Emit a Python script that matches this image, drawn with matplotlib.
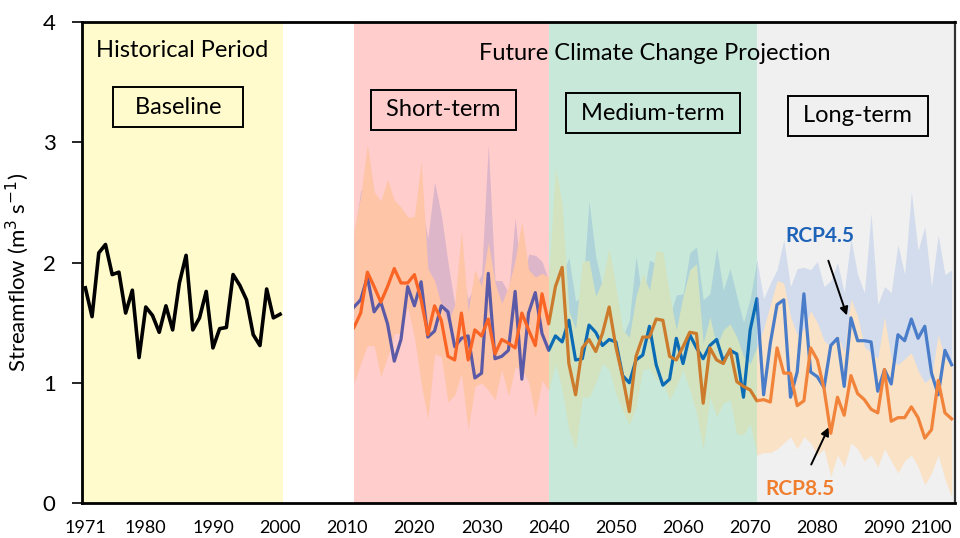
import numpy as np
import matplotlib.pyplot as plt

plt.rcParams['font.family'] = ['Lato', 'DejaVu Sans']

# observed baseline streamflow, 1971-2000
hist_years = list(range(1971, 2001))
hist_flow = [1.79, 1.55, 2.08, 2.15, 1.90, 1.92, 1.58, 1.77, 1.21, 1.63,
             1.56, 1.42, 1.64, 1.44, 1.83, 2.06, 1.44, 1.54, 1.76, 1.29,
             1.45, 1.46, 1.90, 1.81, 1.69, 1.40, 1.31, 1.78, 1.54, 1.57]

# projected streamflow, 2011-2100 (ensemble mean and range)
proj_years = list(range(2011, 2101))
rcp45 = [1.63, 1.69, 1.88, 1.59, 1.67, 1.49, 1.18, 1.36, 1.80, 1.64,
         1.84, 1.38, 1.43, 1.64, 1.59, 1.30, 1.37, 1.39, 1.04, 1.08,
         1.91, 1.20, 1.22, 1.27, 1.76, 1.03, 1.58, 1.75, 1.41, 1.27,
         1.39, 1.34, 1.52, 1.19, 1.20, 1.48, 1.42, 1.31, 1.36, 1.34,
         1.06, 1.00, 1.19, 1.23, 1.47, 1.15, 0.98, 1.03, 1.37, 1.16,
         1.40, 1.29, 1.20, 1.31, 1.36, 1.18, 1.27, 1.24, 0.88, 1.44,
         1.70, 0.90, 1.33, 1.65, 1.69, 0.88, 1.09, 1.74, 1.09, 1.05,
         0.96, 1.31, 1.37, 0.97, 1.54, 1.35, 1.35, 1.34, 0.93, 1.11,
         0.99, 1.40, 1.35, 1.53, 1.37, 1.47, 1.08, 0.90, 1.27, 1.15]
rcp85 = [1.46, 1.58, 1.92, 1.80, 1.67, 1.80, 1.95, 1.83, 1.83, 1.90,
         1.69, 1.40, 1.64, 1.52, 1.22, 1.19, 1.58, 1.19, 1.44, 1.39,
         1.53, 1.24, 1.36, 1.33, 1.29, 1.58, 1.44, 1.31, 1.74, 1.49,
         1.80, 1.96, 1.16, 0.90, 1.29, 1.36, 1.26, 1.41, 1.63, 1.30,
         1.05, 0.76, 1.22, 1.38, 1.38, 1.53, 1.52, 1.22, 1.19, 1.30,
         1.42, 1.41, 0.83, 1.29, 1.19, 1.16, 1.28, 1.01, 0.97, 0.94,
         0.85, 0.86, 0.84, 1.29, 1.08, 1.08, 0.81, 0.85, 1.29, 1.19,
         0.95, 0.58, 0.88, 0.73, 1.06, 0.91, 0.86, 0.78, 0.75, 1.11,
         0.68, 0.71, 0.71, 0.80, 0.71, 0.54, 0.61, 1.02, 0.75, 0.70]
rcp45_hi = [2.20, 2.60, 2.60, 2.40, 2.30, 2.40, 2.30, 2.20, 2.30, 2.30,
            2.50, 2.20, 2.67, 2.40, 2.00, 1.65, 1.90, 1.70, 1.80, 1.90,
            2.98, 1.85, 1.85, 1.75, 2.37, 1.80, 2.07, 2.06, 2.01, 1.85,
            2.10, 1.90, 2.04, 1.68, 1.72, 2.51, 2.05, 1.80, 1.72, 1.55,
            1.38, 1.52, 2.05, 1.68, 2.02, 1.99, 1.77, 1.55, 1.73, 1.74,
            2.08, 2.13, 1.69, 1.74, 2.12, 1.77, 1.95, 1.72, 1.50, 1.70,
            2.02, 1.70, 1.83, 1.94, 2.19, 1.80, 1.95, 1.96, 1.94, 2.01,
            1.80, 1.85, 2.00, 1.75, 2.20, 1.90, 1.75, 2.41, 1.65, 1.80,
            1.75, 2.15, 1.90, 2.59, 2.10, 2.30, 1.80, 2.23, 1.90, 1.94]
rcp45_lo = [1.20, 1.25, 1.40, 1.35, 1.20, 1.25, 1.45, 1.45, 1.65, 1.40,
            1.10, 0.90, 1.25, 1.25, 0.95, 0.95, 1.10, 0.80, 1.00, 1.05,
            1.00, 0.95, 1.15, 0.95, 1.15, 1.15, 1.05, 0.85, 1.05, 1.00,
            1.20, 1.00, 0.80, 0.70, 0.95, 0.95, 1.05, 1.20, 1.15, 1.00,
            0.85, 0.80, 0.90, 1.15, 1.15, 1.05, 1.05, 0.95, 1.00, 1.15,
            1.00, 0.85, 0.70, 0.95, 0.85, 0.90, 0.95, 0.75, 0.70, 0.80,
            1.00, 0.95, 1.00, 1.10, 1.10, 0.95, 1.00, 1.05, 1.00, 0.95,
            0.95, 0.90, 1.00, 0.90, 1.05, 1.00, 0.95, 0.95, 0.90, 1.00,
            0.90, 0.95, 0.95, 1.00, 0.90, 0.85, 0.85, 0.95, 0.90, 0.90]
rcp85_hi = [2.27, 2.55, 2.98, 2.59, 2.51, 2.69, 2.52, 2.46, 2.38, 2.38,
            2.84, 1.95, 1.85, 1.65, 1.50, 1.65, 2.27, 1.59, 1.94, 1.80,
            2.17, 1.83, 1.66, 1.80, 2.02, 2.34, 1.94, 1.88, 1.91, 1.88,
            2.80, 2.49, 1.60, 1.45, 2.01, 2.02, 1.72, 1.85, 2.12, 1.80,
            1.44, 1.38, 1.72, 1.91, 1.77, 2.10, 2.09, 1.73, 1.44, 1.72,
            1.94, 1.99, 1.33, 1.55, 1.30, 1.44, 1.49, 1.38, 1.22, 1.16,
            1.30, 1.45, 1.65, 1.85, 1.83, 1.55, 1.40, 1.45, 1.60, 1.50,
            1.35, 1.30, 1.40, 1.25, 1.70, 1.55, 1.30, 1.25, 1.20, 1.55,
            1.20, 1.15, 1.20, 1.25, 1.10, 1.00, 1.05, 1.40, 1.20, 1.15]
rcp85_lo = [1.00, 1.16, 1.31, 1.31, 1.05, 1.22, 1.41, 1.41, 1.63, 1.38,
            1.00, 0.70, 1.24, 1.22, 0.84, 0.90, 1.08, 0.61, 0.97, 1.00,
            0.94, 0.86, 1.11, 0.89, 1.13, 1.11, 1.01, 0.72, 1.02, 0.94,
            1.16, 0.94, 0.61, 0.44, 0.88, 0.88, 1.00, 1.16, 1.11, 0.91,
            0.77, 0.65, 0.80, 1.11, 1.12, 1.03, 1.00, 0.86, 0.97, 1.11,
            0.94, 0.75, 0.45, 0.88, 0.72, 0.83, 0.86, 0.57, 0.57, 0.66,
            0.40, 0.42, 0.42, 0.45, 0.50, 0.55, 0.45, 0.55, 0.50, 0.40,
            0.45, 0.22, 0.40, 0.30, 0.50, 0.45, 0.35, 0.40, 0.30, 0.45,
            0.35, 0.25, 0.35, 0.40, 0.30, 0.15, 0.25, 0.40, 0.20, 0.05]

period_names = ['Short-term', 'Medium-term', 'Long-term']
period_spans = [(2011, 2040), (2040, 2071), (2071, 2100.5)]
xtick_years = [1971, 1980, 1990, 2000, 2010, 2020, 2030, 2040,
               2050, 2060, 2070, 2080, 2090, 2100]

# each period is shaded, so the curves take on a tinted colour inside it
period_bg = ['#FFCDCC', '#C8E8DA', '#F0F0F0']
line45_col = ['#5B5AA6', '#0B6CB5', '#4A7DC9']
line85_col = ['#FA6424', '#CC7A2B', '#F1833A']
band45_col = ['#DDB6C9', '#AED3D8', '#D3DCEC']
band85_col = ['#FEC5A6', '#D3E3BF', '#FAE2C6']

fig, ax = plt.subplots(figsize=(9.6, 5.38), dpi=100)
fig.subplots_adjust(left=0.0854, right=0.9948, top=0.959, bottom=0.065)

ax.axvspan(1970.5, 2000.5, color='#FFFBCC', lw=0, zorder=0)
ax.plot(hist_years, hist_flow, color='black', lw=2.6, zorder=3)

for i, (start, end) in enumerate(period_spans):
    clip = ax.axvspan(start, end, facecolor=period_bg[i], edgecolor='none', zorder=0)
    artists = [
        ax.fill_between(proj_years, rcp45_lo, rcp45_hi, color=band45_col[i], lw=0, zorder=1),
        ax.fill_between(proj_years, rcp85_lo, rcp85_hi, color=band85_col[i], lw=0, zorder=1.5),
        ax.plot(proj_years, rcp45, color=line45_col[i], lw=2.3, zorder=3)[0],
        ax.plot(proj_years, rcp85, color=line85_col[i], lw=2.3, zorder=3.5)[0],
    ]
    for a in artists:
        a.set_clip_path(clip)

# period labels
box = dict(boxstyle='square,pad=0.4', facecolor='none', edgecolor='black', lw=1.4)
ax.text(1985.4, 3.76, 'Historical Period', ha='center', va='center', fontsize=17)
ax.text(1984.8, 3.29, '  Baseline  ', ha='center', va='center', fontsize=17, bbox=box)
ax.text(2055.8, 3.74, 'Future Climate Change Projection', ha='center', va='center', fontsize=17)
label_pos = [(2024.3, 3.27), (2055.5, 3.24), (2086.0, 3.22)]
for name, (x, y) in zip(period_names, label_pos):
    ax.text(x, y, ' ' + name + ' ', ha='center', va='center', fontsize=17, bbox=box)

ax.annotate('RCP4.5', xy=(2084.4, 1.56), xytext=(2080.4, 2.22), ha='center', va='center',
            fontsize=15, fontweight='bold', color='#1F63B8',
            arrowprops=dict(arrowstyle='-|>', color='black', lw=1.4, shrinkA=9, shrinkB=0,
                            mutation_scale=12))
ax.annotate('RCP8.5', xy=(2081.7, 0.63), xytext=(2077.4, 0.12), ha='center', va='center',
            fontsize=15, fontweight='bold', color='#F07E2F',
            arrowprops=dict(arrowstyle='-|>', color='black', lw=1.4, shrinkA=9, shrinkB=0,
                            mutation_scale=12))

ax.set_xlim(1970.5, 2100.5)
ax.set_ylim(0, 4)
ax.set_yticks([0, 1, 2, 3, 4])
ax.set_xticks(xtick_years)
ax.set_xticklabels([str(y) for y in xtick_years])
ax.get_xticklabels()[-1].set_ha('right')
ax.tick_params(axis='x', length=0, pad=12, labelsize=13)
ax.tick_params(axis='y', length=7, width=1.2, pad=12, labelsize=16)
ax.set_ylabel('Streamflow (m$^{3}$ s$^{-1}$)', fontsize=16)
ax.yaxis.set_label_coords(-0.058, 0.48)

for side in ['left', 'bottom', 'top']:
    ax.spines[side].set_linewidth(2)
    ax.spines[side].set_color('black')
ax.spines['right'].set_linewidth(1.6)
ax.spines['right'].set_color('#333333')

fig.savefig('out.png', dpi=100)
